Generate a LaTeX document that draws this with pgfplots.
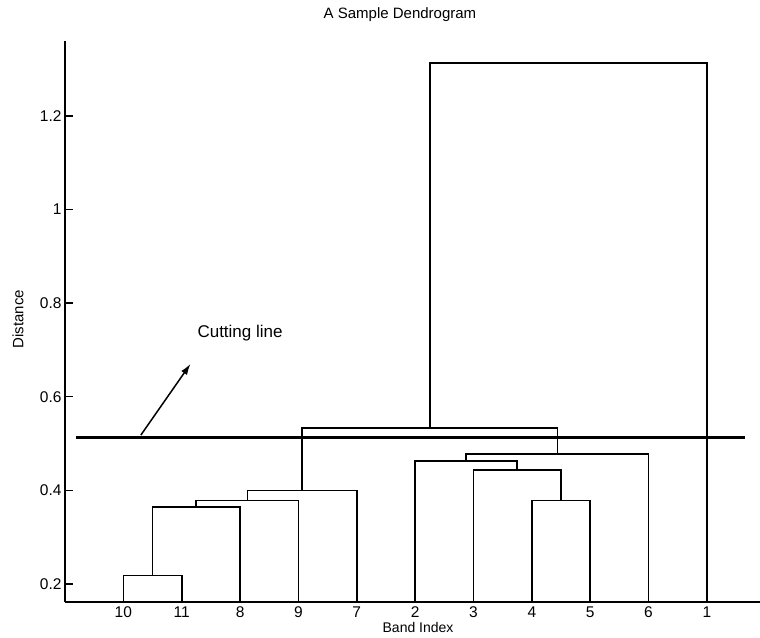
\documentclass[border=0pt]{standalone}
\usepackage{fontspec}
\setmainfont{Liberation Sans}
\usepackage{pgfplots}
\pgfplotsset{compat=1.18}
\usetikzlibrary{arrows.meta}
\begin{document}
\begin{tikzpicture}
\path[use as bounding box] (-65pt,-35.3pt) rectangle (695pt,601.7pt);
\begin{axis}[
  at={(0,0)}, anchor=south west,
  width=695pt, height=560.7pt, scale only axis,
  xmin=0, xmax=11.91, ymin=0.162, ymax=1.36,
  axis x line*=bottom, axis y line*=left,
  axis line style={line width=1.8pt, -},
  xtick={1,...,11}, xticklabels={10,11,8,9,7,2,3,4,5,6,1},
  ytick={0.2,0.4,0.6,0.8,1,1.2},
  tick align=inside, major tick length=8pt,
  xtick style={draw=none}, ytick style={line width=1.4pt, black},
  tick label style={font=\fontsize{15.5}{17}\selectfont},
  xticklabel style={yshift=-1pt, text height=11pt, text depth=0pt},
  /pgf/number format/assume math mode=true,
  title={A Sample Dendrogram},
  title style={at={(axis description cs:0.482,1.037)}, anchor=center, font=\fontsize{15}{17}\selectfont},
  xlabel={Band Index},
  xlabel style={at={(axis description cs:0.508,-0.0465)}, anchor=center, inner sep=0pt, font=\fontsize{14}{16}\selectfont},
  ylabel={Distance},
  ylabel style={at={(axis description cs:-0.0676,0.504)}, anchor=center, font=\fontsize{15}{17}\selectfont},
  dlink/.style={black, solid, line width=1.6pt, mark=none},
]
% dendrogram links
\addplot[dlink] coordinates {(1,0) (1,0.218) (2,0.218) (2,0)};
\addplot[dlink] coordinates {(1.5,0.218) (1.5,0.364) (3,0.364) (3,0)};
\addplot[dlink] coordinates {(2.25,0.364) (2.25,0.378) (4,0.378) (4,0)};
\addplot[dlink] coordinates {(3.125,0.378) (3.125,0.400) (5,0.400) (5,0)};
\addplot[dlink] coordinates {(8,0) (8,0.378) (9,0.378) (9,0)};
\addplot[dlink] coordinates {(7,0) (7,0.444) (8.5,0.444) (8.5,0.378)};
\addplot[dlink] coordinates {(6,0) (6,0.462) (7.75,0.462) (7.75,0.444)};
\addplot[dlink] coordinates {(6.875,0.462) (6.875,0.477) (10,0.477) (10,0)};
\addplot[dlink] coordinates {(4.0625,0.400) (4.0625,0.533) (8.4375,0.533) (8.4375,0.477)};
\addplot[dlink] coordinates {(6.25,0.533) (6.25,1.313) (11,1.313) (11,0)};
% cutting line
\addplot[black, solid, mark=none, line width=3pt] coordinates {(0.19,0.512) (11.66,0.512)};
\addplot[black, solid, mark=none, -{Latex[length=11pt,width=7pt]}, line width=1.5pt] coordinates {(1.3,0.518) (2.15,0.67)};
\node[font=\fontsize{17}{19}\selectfont] at (axis cs:3.0,0.735) {Cutting line};
\end{axis}
\end{tikzpicture}
\end{document}
